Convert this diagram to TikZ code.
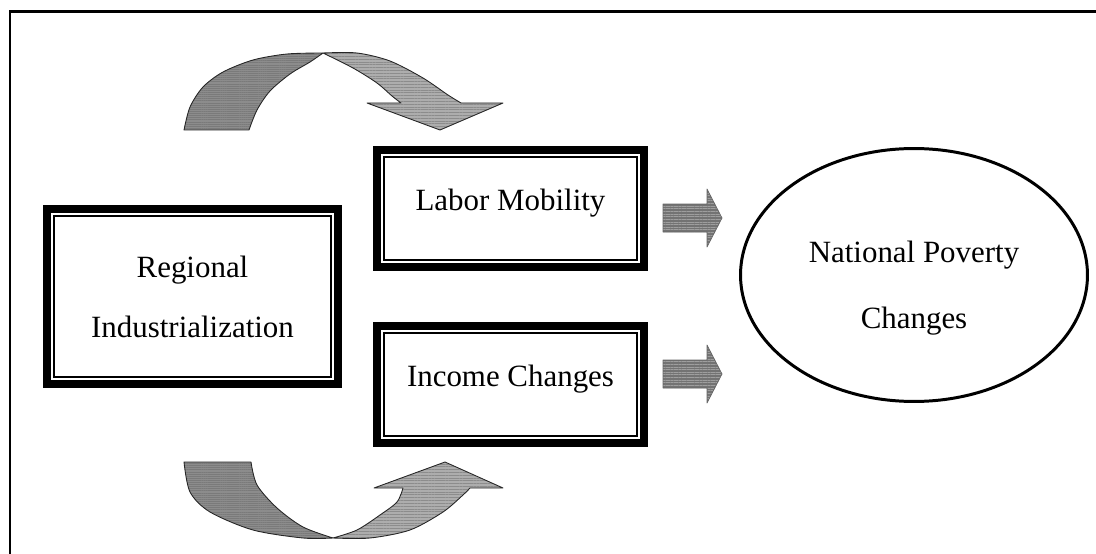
\documentclass[tikz,border=0pt]{standalone}
\usepackage{fontspec}
\setmainfont{Liberation Serif}
\usetikzlibrary{shapes.geometric,patterns.meta}

\tikzset{
  boxtext/.style={font=\fontsize{17.6}{34.1}\selectfont},
  dblbox/.style={draw, line width=4.6pt, inner sep=0pt, outer sep=0pt, align=center, boxtext},
  sidebox/.style={dblbox, minimum width=5.34cm, minimum height=2.34cm, text height=0.68em, text depth=0.45em},
  thinrule/.style={line width=1.1pt},
  darkhalf/.style={preaction={fill=black!45}, pattern={Lines[angle=0,distance=1.2pt,line width=0.3pt]},
    pattern color=black!52, draw=black!85, line width=0.5pt, line join=round},
  lighthalf/.style={preaction={fill=black!32}, pattern={Lines[angle=0,distance=1.6pt,line width=0.55pt]},
    pattern color=black!45, draw=black!85, line width=0.5pt, line join=round},
  flatarrow/.style={preaction={fill=black!55}, pattern={Lines[angle=0,distance=1.5pt,line width=0.4pt]},
    pattern color=black!38, draw=black!60, line width=0.4pt, line join=round}
}

\begin{document}
\begin{tikzpicture}[x=0.02cm, y=-0.02cm]
  \useasboundingbox (0,0) rectangle (1096,554);
  % page frame: only its left and top edges are in view
  \draw[line width=1.7pt] (10,560) -- (10,11.5) -- (1100,11.5);

  % the three boxes, thick outer rule with a thin one inside
  \node[dblbox, minimum width=5.82cm, minimum height=3.5cm] (reg) at (192.5,296.5) {Regional\\Industrialization};
  \node[sidebox] (lab) at (510.5,208.3) {Labor Mobility};
  \node[sidebox] (inc) at (510.5,384.5) {Income Changes};
  \foreach \n in {reg,lab,inc}
    \draw[thinrule] ([shift={(7,7)}]\n.north west) rectangle ([shift={(-7,-7)}]\n.south east);

  % outcome
  \node[ellipse, draw, line width=1.7pt, inner sep=0pt, minimum width=6.94cm, minimum height=5.06cm] (pov) at (914,275) {};
  \node[align=center, font=\fontsize{17.6}{37.6}\selectfont] (povtext) at (914,288) {National Poverty\\Changes};

  % upper curved arrow (over the top, pointing down)
  \path[darkhalf] plot[smooth] coordinates {(184,130) (190,107) (203,87) (223,72) (253,60) (287,54) (323,53)}
    -- plot[smooth] coordinates {(323,53) (310,62) (290,74) (270,91) (257,110) (249,130)} -- cycle;
  \path[lighthalf] plot[smooth] coordinates {(323,53) (357,53) (390,61) (423,78) (448,95) (461,103)}
    -- (503,103) -- (440,130) -- (367,103)
    -- plot[smooth] coordinates {(401,103) (392,96) (377,83) (353,68) (323,53)} -- cycle;

  % lower curved arrow (under the bottom, pointing up)
  \path[darkhalf] plot[smooth] coordinates {(184,462) (190,492) (210,512) (253,530) (303,538) (333,538)}
    -- plot[smooth] coordinates {(333,538) (303,527) (277,508) (257,485) (251,462)} -- cycle;
  \path[lighthalf] plot[smooth] coordinates {(333,538) (370,538) (410,530) (443,512) (463,495) (470,488)}
    -- (503,488) -- (445,462) -- (374,488)
    -- plot[smooth] coordinates {(403,488) (397,502) (380,515) (357,530) (333,538)} -- cycle;

  % block arrows into the ellipse
  \foreach \yc in {218,374}
    \path[flatarrow] (663,{\yc-14}) -- (707,{\yc-14}) -- (707,{\yc-29}) -- (722,\yc)
      -- (707,{\yc+29}) -- (707,{\yc+14}) -- (663,{\yc+14}) -- cycle;
\end{tikzpicture}
\end{document}
